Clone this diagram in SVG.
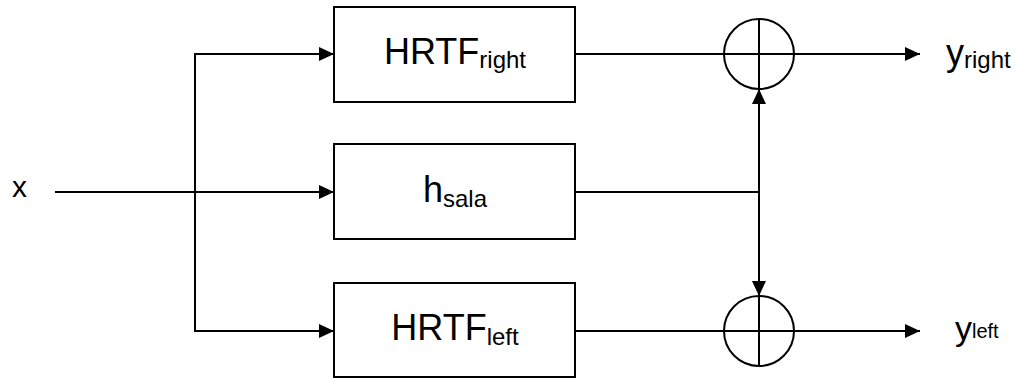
<svg xmlns="http://www.w3.org/2000/svg" width="1015" height="378" viewBox="0 0 1015 378">
<defs>
<style>
.box{fill:#fff;stroke:#000;stroke-width:2}
.ln{fill:none;stroke:#000;stroke-width:2}
.t{font-family:"Liberation Sans",Arial,sans-serif;fill:#000}
</style>
<marker id="ah" viewBox="0 0 15 14" refX="15" refY="7" markerWidth="15" markerHeight="14" markerUnits="userSpaceOnUse" orient="auto">
<path d="M0,0 L15,7 L0,14 Z" fill="#000"/>
</marker>
</defs>
<rect width="1015" height="378" fill="#fff"/>
<g id="connectors">
<path class="ln" d="M55,192 L334,192" marker-end="url(#ah)"/>
<path class="ln" d="M195,192 L195,54 L334,54" marker-end="url(#ah)"/>
<path class="ln" d="M195,192 L195,331 L334,331" marker-end="url(#ah)"/>
<path class="ln" d="M575,54 L724,54"/>
<path class="ln" d="M575,331 L724,331"/>
<path class="ln" d="M575,192 L759,192"/>
<path class="ln" d="M759,192 L759,89" marker-end="url(#ah)"/>
<path class="ln" d="M759,192 L759,296" marker-end="url(#ah)"/>
<path class="ln" d="M794,54 L920,54" marker-end="url(#ah)"/>
<path class="ln" d="M794,331 L920,331" marker-end="url(#ah)"/>
</g>
<g id="in-x"><text class="t" x="12" y="197" font-size="30">x</text></g>
<g id="hrtf-right">
<rect class="box" x="334" y="7" width="241" height="95"/>
<text class="t" x="455" y="64" font-size="36" text-anchor="middle">HRTF<tspan font-size="24" dy="4">right</tspan></text>
</g>
<g id="h-sala">
<rect class="box" x="334" y="144" width="241" height="95"/>
<text class="t" x="455" y="202" font-size="36" text-anchor="middle">h<tspan font-size="24" dy="5">sala</tspan></text>
</g>
<g id="hrtf-left">
<rect class="box" x="334" y="283" width="241" height="94"/>
<text class="t" x="455" y="340" font-size="36" text-anchor="middle">HRTF<tspan font-size="24" dy="5">left</tspan></text>
</g>
<g id="sum-right">
<circle class="ln" cx="759" cy="54" r="35"/>
<path class="ln" d="M724,54 L794,54 M759,19 L759,89"/>
</g>
<g id="sum-left">
<circle class="ln" cx="759" cy="331" r="35"/>
<path class="ln" d="M724,331 L794,331 M759,296 L759,366"/>
</g>
<g id="out-right"><text class="t" x="946" y="65" font-size="36">y<tspan font-size="24" dy="3">right</tspan></text></g>
<g id="out-left"><text class="t" x="955" y="340" font-size="34">y<tspan font-size="20" dy="-2">left</tspan></text></g>
</svg>
